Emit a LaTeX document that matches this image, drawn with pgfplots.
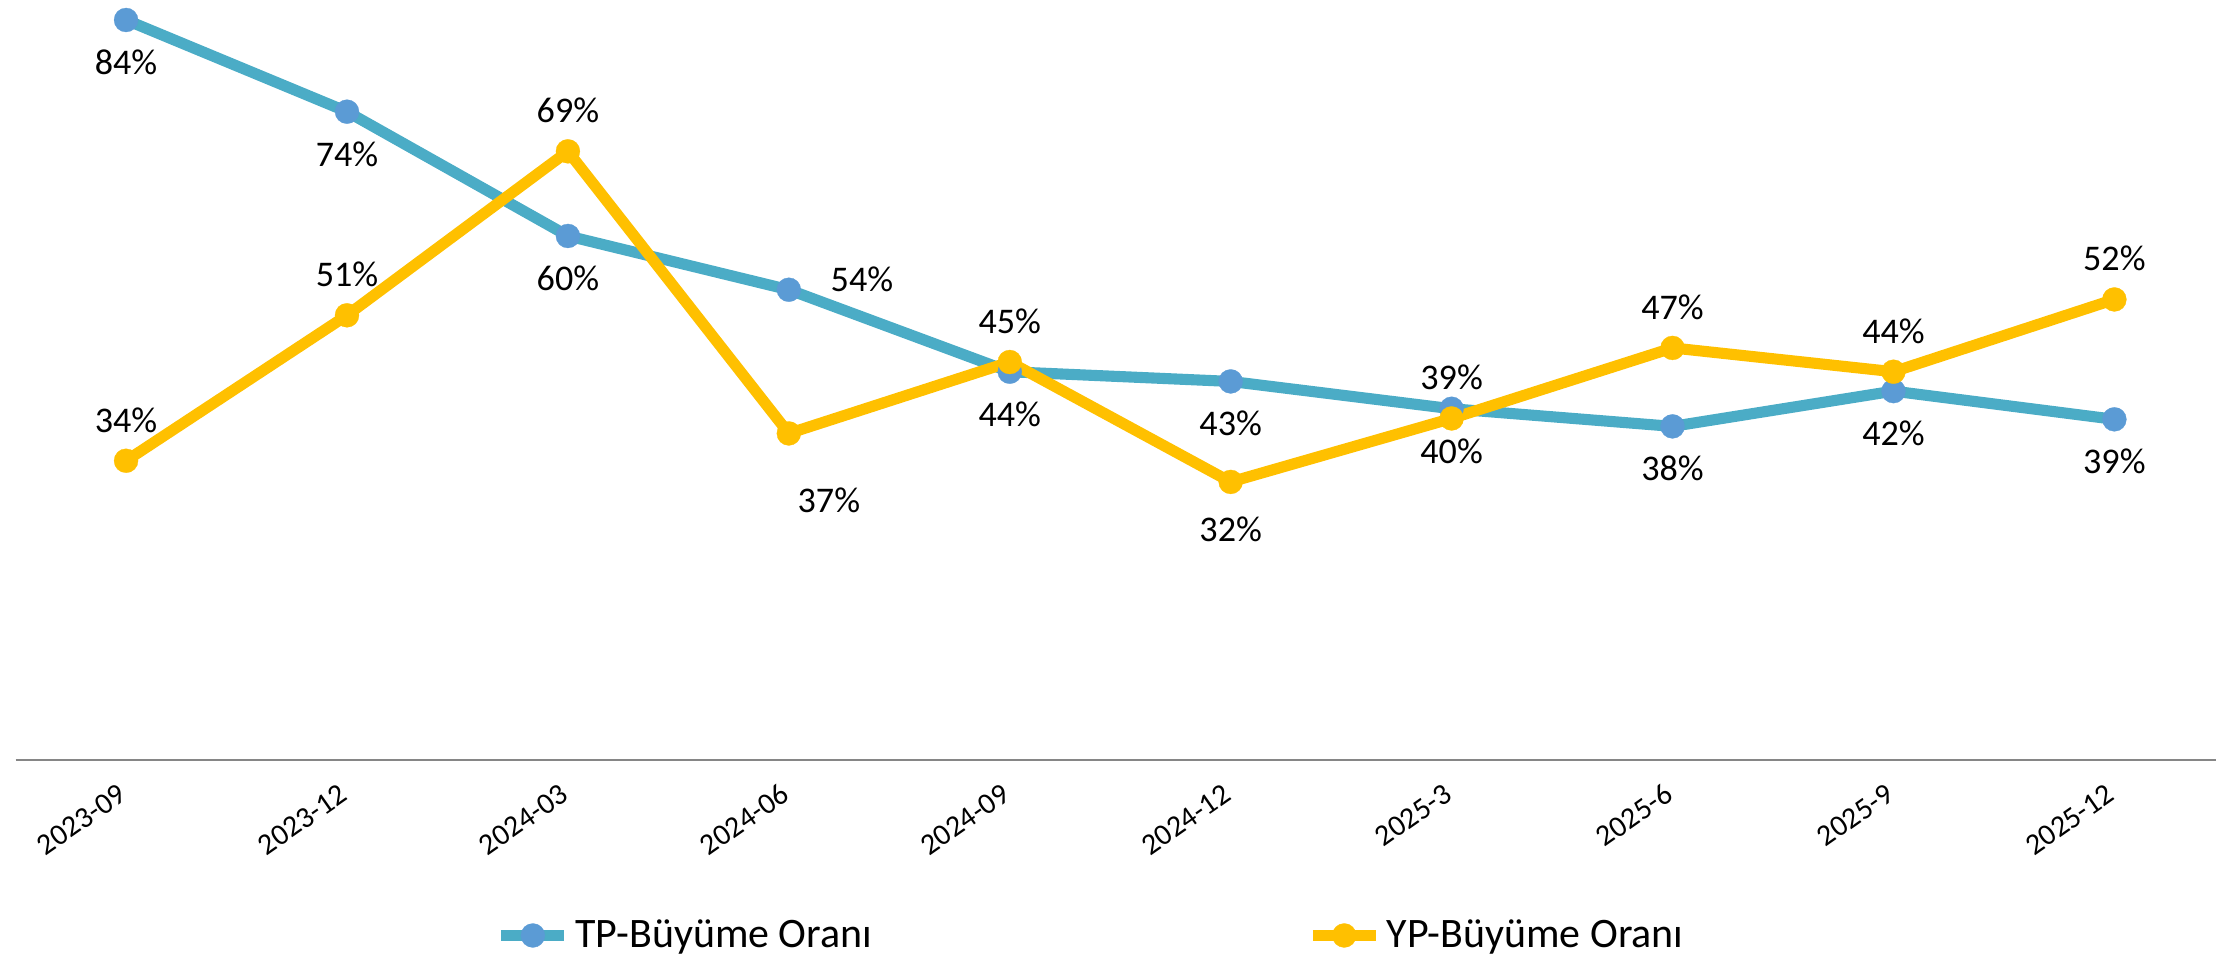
\documentclass[border=0pt]{standalone}
\usepackage{fontspec}
\setmainfont{Carlito}
\usepackage{pgfplots}
\pgfplotsset{compat=1.18}
\usepackage{pgfplotstable}
\definecolor{tpline}{HTML}{4BACC6}
\definecolor{tpmark}{HTML}{5B9BD5}
\definecolor{ypc}{HTML}{FFC000}
\definecolor{axgray}{HTML}{868686}

\pgfplotstableread{
x y lab dx dy
0 84.0 84 0 -19.6
1 73.6 74 0 -19.6
2 59.5 60 0 -19.6
3 53.4 54 26.3 -0.5
4 44.1 44 0 -19.6
5 43.0 43 0 -19.6
6 39.9 40 0 -19.6
7 37.9 38 0 -19.6
8 41.9 42 0 -19.6
9 38.7 39 0 -19.6
}\tp

\pgfplotstableread{
x y lab dx dy
0 34.0 34 0 10.3
1 50.5 51 0 10.3
2 69.1 69 0 10.3
3 37.1 37 14.4 -28.6
4 45.2 45 0 10.3
5 31.6 32 0 -21.4
6 38.8 39 0 10.3
7 46.8 47 0 10.3
8 44.1 44 0 10.3
9 52.3 52 0 10.3
}\yp

\begin{document}
\begin{tikzpicture}
\path[use as bounding box] (0,0) rectangle (797.76pt,349.56pt);
\begin{axis}[
  at={(5.62pt,75.78pt)}, anchor=south west,
  scale only axis, width=792.14pt, height=273.78pt,
  xmin=-0.5, xmax=9.46, ymin=0, ymax=86.27,
  clip=false,
  /pgf/number format/assume math mode=true,
  axis x line*=bottom,
  axis y line=none,
  x axis line style={axgray, line width=0.72pt},
  xtick={0,...,9},
  xticklabels={2023-09,2023-12,2024-03,2024-06,2024-09,2024-12,2025-3,2025-6,2025-9,2025-12},
  major tick length=0pt,
  ytick=\empty,
  xticklabel style={xshift=-1.1pt, yshift=-10.8pt, rotate=35, anchor=east, inner sep=0pt,
    font=\fontsize{10.8}{13}\selectfont},
  nodes near coords={\pgfmathprintnumber[fixed,precision=0,assume math mode=true]{\pgfplotspointmeta}\%},
  point meta=explicit,
  visualization depends on={\thisrow{dx}\as\dx},
  visualization depends on={\thisrow{dy}\as\dy},
  every node near coord/.append style={font=\fontsize{13}{15.6}\selectfont, anchor=base,
    inner sep=0pt, xshift=\dx pt, yshift=\dy pt, text=black},
  legend columns=2,
  legend style={at={(0.4894,-0.2301)}, anchor=center, draw=none, fill=none,
    font=\fontsize{15.1}{18}\selectfont, inner sep=0pt,
    /tikz/every even column/.append style={column sep=154.6pt},
    cells={anchor=west}},
  legend image code/.code={\draw[mark repeat=2,mark phase=2] plot coordinates {(0pt,0pt) (11.34pt,0pt) (22.68pt,0pt)};},
]
\addplot[tpline, line width=4pt, mark=*, mark size=4.32pt,
  mark options={solid, fill=tpmark, draw=tpmark, line width=0.1pt}]
  table[x=x,y=y,meta=lab]{\tp};
\addlegendentry{TP-Büyüme Oranı}
\addplot[ypc, line width=4pt, mark=*, mark size=4.32pt,
  mark options={solid, fill=ypc, draw=ypc, line width=0.1pt}]
  table[x=x,y=y,meta=lab]{\yp};
\addlegendentry{YP-Büyüme Oranı}
\end{axis}
\end{tikzpicture}
\end{document}
